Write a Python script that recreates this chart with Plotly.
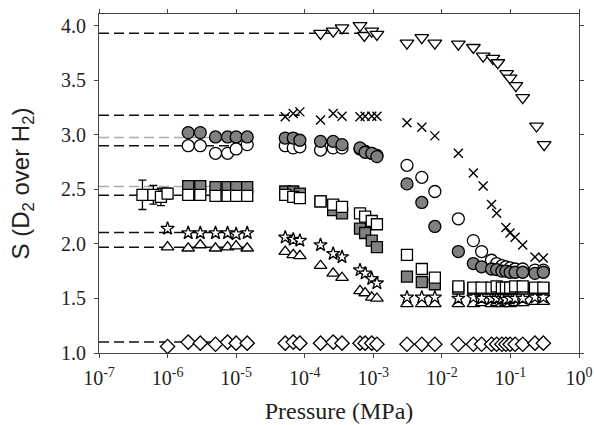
import plotly.graph_objects as go

# ---- pressures (MPa) ----
C1 = [1e-6, 2e-6, 3e-6, 5e-6, 7.5e-6, 1e-5, 1.45e-5]
C1b = [2e-6, 3e-6, 5e-6, 7.5e-6, 1e-5, 1.45e-5]
C2 = [5.2e-5, 6.8e-5, 8.5e-5, 1.7e-4, 2.6e-4, 3.5e-4, 6.4e-4, 7.6e-4, 9.5e-4, 1.13e-3]
C3 = [3.1e-3, 5.1e-3, 7.9e-3]
C4 = [0.0174, 0.0288, 0.038, 0.053, 0.063, 0.075, 0.086, 0.099, 0.117, 0.151, 0.228, 0.302]

# ---- diamonds ----
dia_p = C1 + C2 + C3 + C4
dia_s = [1.06, 1.10, 1.09, 1.08, 1.10, 1.09, 1.09,
         1.09, 1.10, 1.09, 1.09, 1.10, 1.09, 1.09, 1.09, 1.09, 1.08,
         1.08, 1.08, 1.08,
         1.08, 1.08, 1.08, 1.08, 1.08, 1.08, 1.08, 1.08, 1.08, 1.08, 1.09, 1.09]

# ---- triangles up ----
tri_p = C1 + C2 + C3 + C4
tri_s = [1.97, 1.96, 1.99, 1.96, 1.97, 1.98, 1.96,
         1.93, 1.90, 1.89, 1.80, 1.73, 1.69, 1.57, 1.55, 1.51, 1.50,
         1.45, 1.45, 1.45,
         1.45, 1.45, 1.46, 1.45, 1.46, 1.45, 1.46, 1.45, 1.46, 1.46, 1.47, 1.47]

# ---- stars ----
star_p = C1 + C2 + C3 + C4
star_s = [2.14, 2.10, 2.10, 2.10, 2.10, 2.09, 2.10,
          2.06, 2.04, 2.03, 1.99, 1.91, 1.88, 1.76, 1.73, 1.68, 1.64,
          1.51, 1.51, 1.51,
          1.50, 1.51, 1.50, 1.50, 1.50, 1.50, 1.49, 1.50, 1.50, 1.50, 1.51, 1.51]

# ---- grey squares ----
gsq_p = C1b + C2 + C3 + C4
gsq_s = [2.53, 2.53, 2.52, 2.52, 2.52, 2.52,
         2.48, 2.48, 2.46, 2.39, 2.31, 2.28, 2.14, 2.10, 2.03, 1.97,
         1.70, 1.65, 1.63,
         1.59, 1.59, 1.59, 1.59, 1.59, 1.59, 1.59, 1.59, 1.59, 1.59, 1.59, 1.59]

# ---- open squares ----
osq_p = C1b + C2 + C3 + C4
osq_s = [2.45, 2.45, 2.44, 2.44, 2.44, 2.44,
         2.45, 2.43, 2.42, 2.39, 2.36, 2.34, 2.28, 2.25, 2.21, 2.18,
         1.90, 1.77, 1.69,
         1.61, 1.60, 1.60, 1.60, 1.61, 1.60, 1.60, 1.60, 1.61, 1.61, 1.60, 1.60]
# open squares with error bars (lowest pressures)
err_p = [4.3e-7, 6.2e-7, 8.0e-7, 1.0e-6]
err_s = [2.45, 2.45, 2.43, 2.46]
err_e = [0.135, 0.085, 0.08, 0.05]

# ---- open circles ----
oci_p = C1b + C2 + C3 + C4
oci_s = [2.90, 2.90, 2.83, 2.83, 2.87, 2.91,
         2.90, 2.88, 2.89, 2.86, 2.88, 2.88, 2.87, 2.85, 2.83, 2.81,
         2.72, 2.61, 2.48,
         2.23, 2.03, 1.93, 1.85, 1.82, 1.80, 1.79, 1.78, 1.77, 1.77, 1.76, 1.76]

# ---- grey circles ----
gci_p = C1b + C2 + C3 + C4
gci_s = [3.02, 3.02, 2.98, 2.98, 2.98, 2.98,
         2.97, 2.97, 2.95, 2.94, 2.94, 2.91, 2.88, 2.84, 2.83, 2.80,
         2.55, 2.38, 2.16,
         1.93, 1.82, 1.79, 1.77, 1.765, 1.75, 1.75, 1.74, 1.74, 1.74, 1.73, 1.74]

# ---- crosses ----
crs_p = C2 + C3 + [0.0174, 0.0288, 0.040, 0.053, 0.063, 0.086, 0.0986, 0.117, 0.151, 0.228, 0.302]
crs_s = [3.165, 3.195, 3.21, 3.135, 3.195, 3.17, 3.165, 3.17, 3.17, 3.17,
         3.11, 3.07, 2.99,
         2.83, 2.65, 2.53, 2.36, 2.28, 2.15, 2.10, 2.06, 1.99, 1.88, 1.87]

# ---- triangles down ----
tdn_p = [1.7e-4, 2.6e-4, 3.5e-4, 6.4e-4, 7.4e-4, 9.5e-4, 1.13e-3] + C3 + \
        [0.0174, 0.0288, 0.040, 0.0555, 0.0655, 0.088, 0.0986, 0.12, 0.151, 0.24, 0.31]
tdn_s = [3.93, 3.95, 3.98, 4.00, 3.91, 3.95, 3.92,
         3.84, 3.89, 3.84,
         3.83, 3.80, 3.72, 3.70, 3.66, 3.56, 3.52, 3.45, 3.34, 3.08, 2.91]

# ---- dashed reference levels: (value, x-end, colour) ----
ref_vals = [3.93, 3.18, 2.975, 2.90, 2.525, 2.445, 2.105, 1.97, 1.10]
ref_end = [6.4e-4, 8.5e-5, 1.45e-5, 1.45e-5, 1.45e-5, 1.45e-5, 1.45e-5, 1.45e-5, 1.45e-5]
ref_col = ["#111", "#111", "#aaaaaa", "#111", "#aaaaaa", "#111", "#111", "#111", "#111"]
ref_start = 1e-7

xtick_vals = [1e-7, 1e-6, 1e-5, 1e-4, 1e-3, 1e-2, 1e-1, 1e0]
xtick_text = ["10<sup>-7</sup>", "10<sup>-6</sup>", "10<sup>-5</sup>", "10<sup>-4</sup>",
              "10<sup>-3</sup>", "10<sup>-2</sup>", "10<sup>-1</sup>", "10<sup>0</sup>"]
ytick_vals = [1.0, 1.5, 2.0, 2.5, 3.0, 3.5, 4.0]

SERIF = "Liberation Serif"
SANS = "Liberation Sans"

fig = go.Figure()

for v, e, c in zip(ref_vals, ref_end, ref_col):
    fig.add_trace(go.Scatter(x=[ref_start, e], y=[v, v], mode="lines",
                             line=dict(color=c, width=1.5, dash="10px,5px"),
                             hoverinfo="skip", showlegend=False))

GREY = "#808080"
BL = dict(color="black", width=1.3)

def mk(x, y, symbol, size, fill, **kw):
    fig.add_trace(go.Scatter(x=x, y=y, mode="markers", showlegend=False,
                             marker=dict(symbol=symbol, size=size, color=fill, line=BL), **kw))

mk(dia_p, dia_s, "diamond", 11, "white")
mk(tri_p, tri_s, "triangle-up", 11, "white")
mk(star_p, star_s, "star", 10, "white")
mk(gsq_p, gsq_s, "square", 11, GREY)
mk(err_p, err_s, "square", 11, "white",
   error_y=dict(type="data", array=err_e, color="black", thickness=1.3, width=4))
mk(osq_p, osq_s, "square", 11, "white")
mk(oci_p, oci_s, "circle", 12, "white")
mk(gci_p, gci_s, "circle", 12, GREY)
fig.add_trace(go.Scatter(x=crs_p, y=crs_s, mode="markers", showlegend=False,
                         marker=dict(symbol="x-thin", size=9, color="black",
                                     line=dict(color="black", width=1.4))))
mk(tdn_p, tdn_s, "triangle-down", 12, "white")

axis_common = dict(showline=True, linecolor="#444", linewidth=1, mirror="ticks",
                   ticks="outside", ticklen=4, tickcolor="#444", showgrid=False,
                   zeroline=False, tickfont=dict(family=SERIF, size=20, color="#222"))

fig.update_layout(
    width=594, height=425,
    margin=dict(l=99, r=15, t=14, b=72, autoexpand=False),
    paper_bgcolor="white", plot_bgcolor="white",
    xaxis=dict(type="log", range=[-7, 0], tickvals=xtick_vals, ticktext=xtick_text,
               ticklabelstandoff=3,
               title=dict(text="Pressure (MPa)", font=dict(family=SERIF, size=24, color="#222"),
                          standoff=14),
               **axis_common),
    yaxis=dict(range=[1.0, 4.107], tickvals=ytick_vals, tickformat=".1f",
               ticklabelstandoff=4,
               title=dict(text="S (D<sub>2</sub> over H<sub>2</sub>)",
                          font=dict(family=SANS, size=24, color="#222"), standoff=24),
               **axis_common),
)

fig.write_html("out.html")
